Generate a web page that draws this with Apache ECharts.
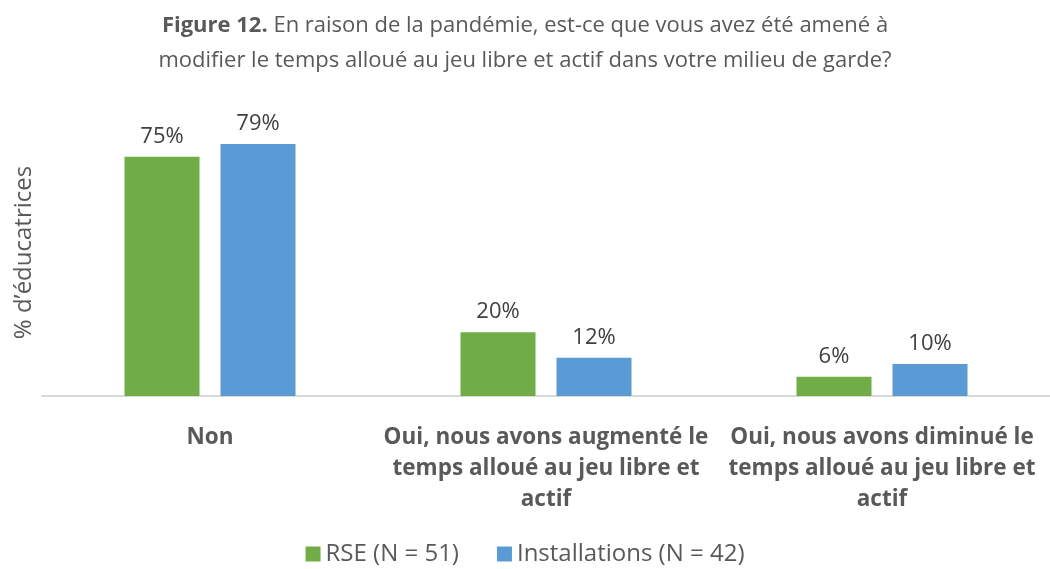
<!DOCTYPE html>
<html>
<head>
<meta charset="utf-8">
<script src="https://cdn.jsdelivr.net/npm/echarts@6/dist/echarts.min.js"></script>
<style>
  html, body { margin: 0; padding: 0; background: #fff; }
  #chart { width: 1050px; height: 569px; }
</style>
</head>
<body>
<div id="chart"></div>
<script>
var categories = [
  'Non',
  'Oui, nous avons augmenté le\ntemps alloué au jeu libre et\nactif',
  'Oui, nous avons diminué le\ntemps alloué au jeu libre et\nactif'
];
var rseValues = [75, 20, 6];
var installValues = [79, 12, 10];
var seriesNames = ['RSE (N = 51)', 'Installations (N = 42)'];

var font = '"Open Sans", "Noto Sans", sans-serif';

var chart = echarts.init(document.getElementById('chart'));

var option = {
  textStyle: { fontFamily: font },
  title: {
    text: '{b|Figure 12.} En raison de la pandémie, est-ce que vous avez été amené à\nmodifier le temps alloué au jeu libre et actif dans votre milieu de garde?',
    left: 'center',
    top: 3,
    textStyle: {
      fontFamily: font,
      fontSize: 22,
      fontWeight: 'normal',
      color: '#595959',
      lineHeight: 35,
      rich: {
        b: { fontFamily: font, fontSize: 22, fontWeight: 'bold', color: '#595959' }
      }
    }
  },
  legend: {
    bottom: -2,
    left: 'center',
    itemWidth: 15,
    itemHeight: 15,
    itemGap: 38,
    icon: 'rect',
    textStyle: { fontFamily: font, fontSize: 24, color: '#595959' },
    data: seriesNames
  },
  grid: {
    left: 42,
    right: -6,
    top: 109,
    bottom: 173
  },
  xAxis: {
    type: 'category',
    data: categories,
    axisTick: { show: false },
    axisLine: { lineStyle: { color: '#d9d9d9', width: 2 } },
    axisLabel: {
      interval: 0,
      margin: 26,
      fontFamily: font,
      fontSize: 22.5,
      fontWeight: 'bold',
      color: '#595959',
      lineHeight: 31
    }
  },
  yAxis: {
    type: 'value',
    min: 0,
    max: 90,
    name: '% d\u2019éducatrices',
    nameLocation: 'middle',
    nameGap: 6,
    nameTextStyle: { fontFamily: font, fontSize: 24, color: '#595959' },
    axisLine: { show: false },
    axisTick: { show: false },
    axisLabel: { show: false },
    splitLine: { show: false }
  },
  series: [
    {
      name: seriesNames[0],
      type: 'bar',
      data: rseValues,
      barWidth: 75,
      barGap: '28%',
      itemStyle: { color: '#70ad47' },
      label: {
        show: true,
        position: 'top',
        distance: 9,
        formatter: '{c}%',
        fontFamily: font,
        fontSize: 22,
        color: '#404040'
      }
    },
    {
      name: seriesNames[1],
      type: 'bar',
      data: installValues,
      barWidth: 75,
      itemStyle: { color: '#5b9bd5' },
      label: {
        show: true,
        position: 'top',
        distance: 9,
        formatter: '{c}%',
        fontFamily: font,
        fontSize: 22,
        color: '#404040'
      }
    }
  ]
};

chart.setOption(option);
</script>
</body>
</html>
